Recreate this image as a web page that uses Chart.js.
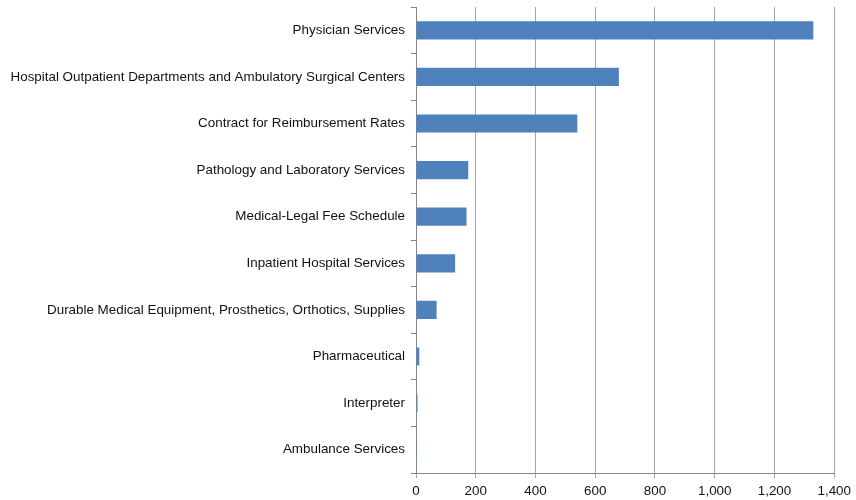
<!DOCTYPE html>
<html>
<head>
<meta charset="utf-8">
<script src="https://cdn.jsdelivr.net/npm/chart.js@4"></script>
<style>
  html, body { margin: 0; padding: 0; background: #fff; }
  #wrap { width: 856px; height: 500px; }
</style>
</head>
<body>
<div id="wrap"><canvas id="feeChart" width="856" height="500"></canvas></div>
<script>
const categories = [
    "Physician Services",
    "Hospital Outpatient Departments and Ambulatory Surgical Centers",
    "Contract for Reimbursement Rates",
    "Pathology and Laboratory Services",
    "Medical-Legal Fee Schedule",
    "Inpatient Hospital Services",
    "Durable Medical Equipment, Prosthetics, Orthotics, Supplies",
    "Pharmaceutical",
    "Interpreter",
    "Ambulance Services",
];
const counts = [1330, 679, 540, 175, 169, 131, 69, 11, 5, 3];
const xTicks = [0, 200, 400, 600, 800, 1000, 1200, 1400];

document.addEventListener("DOMContentLoaded", function () {
    const ctx = document.getElementById("feeChart").getContext("2d");
    const labelFont = { family: "Liberation Sans, Arial", size: 13.4 };

    new Chart(ctx, {
        type: "bar",
        data: {
            labels: categories,
            datasets: [
                {
                    data: counts,
                    backgroundColor: "#4f81bd",
                    borderWidth: 0,
                    categoryPercentage: 1,
                    barPercentage: 0.39,
                },
            ],
        },
        options: {
            indexAxis: "y",
            responsive: false,
            animation: false,
            layout: { padding: { top: 7, right: 20, bottom: 0, left: 0 } },
            plugins: {
                legend: { display: false },
                tooltip: { enabled: false },
            },
            scales: {
                x: {
                    min: xTicks[0],
                    max: xTicks[xTicks.length - 1],
                    afterBuildTicks: (scale) => {
                        scale.ticks = xTicks.map((v) => ({ value: v }));
                    },
                    afterFit: (scale) => {
                        scale.height = 27;
                    },
                    grid: {
                        color: "#a6a6a6",
                        lineWidth: 1,
                        tickLength: 5,
                    },
                    border: { color: "#868686" },
                    ticks: {
                        color: "#111",
                        padding: 5,
                        font: labelFont,
                        callback: (v) => v.toLocaleString("en-US"),
                    },
                },
                y: {
                    afterFit: (scale) => {
                        // fixed gutter for the category names, no extra space above
                        scale.width = 416;
                        scale.paddingTop = 0;
                        scale.paddingBottom = 0;
                    },
                    grid: {
                        offset: true,
                        drawOnChartArea: false,
                        color: "#868686",
                        tickLength: 5,
                    },
                    border: { color: "#868686" },
                    ticks: {
                        color: "#111",
                        padding: 6,
                        font: labelFont,
                    },
                },
            },
        },
    });
});
</script>
</body>
</html>
